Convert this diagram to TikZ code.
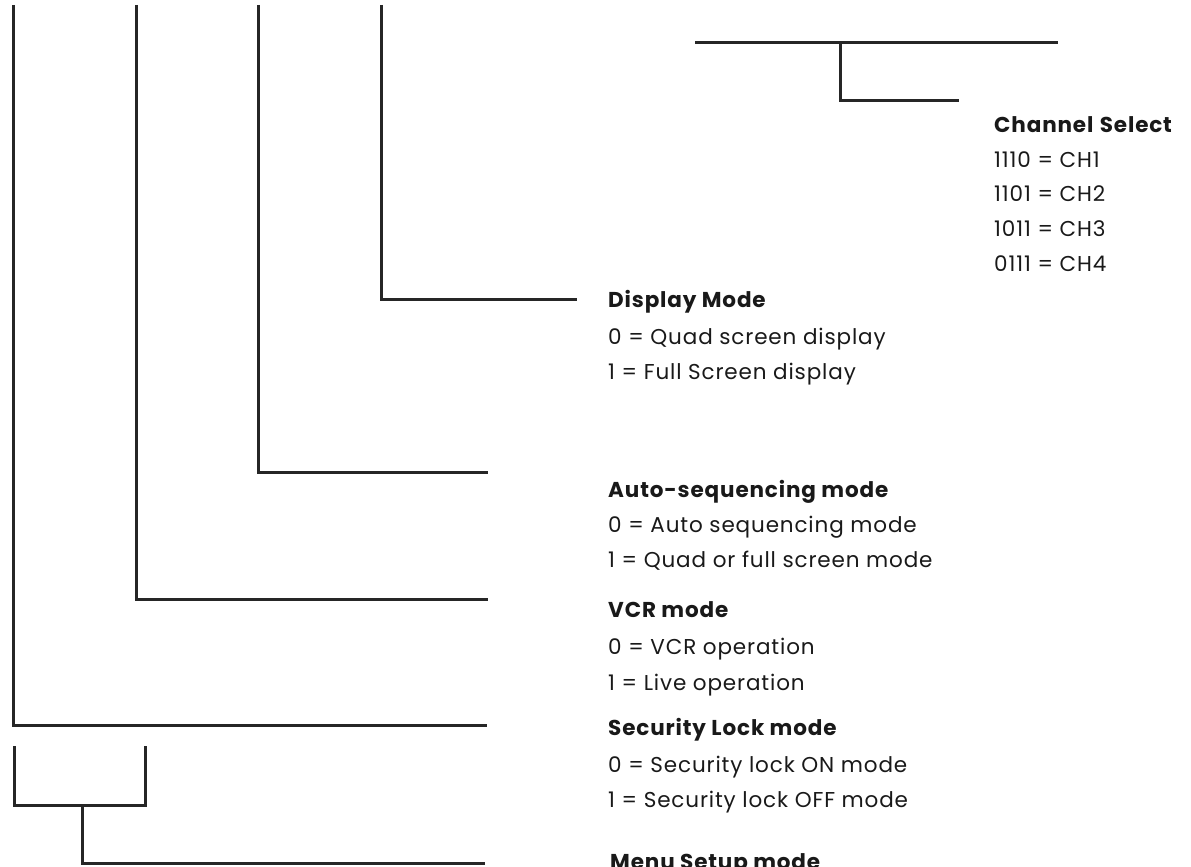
\documentclass[tikz,border=0pt]{standalone}
\usepackage{fontspec}
\setmainfont{Poppins}[LetterSpace=4]
\begin{document}
\begin{tikzpicture}[x=1pt,y=-1pt,
  wire/.style={line width=3pt,color=black!85},
  lab/.style={anchor=base west,inner sep=0pt,font=\fontsize{21.5}{24}\selectfont,text=black!90},
  head/.style={lab,font=\fontsize{21.5}{24}\selectfont\bfseries}]
\useasboundingbox (0,0) rectangle (1191,867);
% free ends
\coordinate (t1) at (13,5);
\coordinate (t2) at (136,5);
\coordinate (t3) at (258,5);
\coordinate (t4) at (381,5);
\coordinate (e4) at (577,299);
\coordinate (e3) at (488,472);
\coordinate (e2) at (488,599);
\coordinate (e1) at (487,725);
\coordinate (h1) at (695,43);
\coordinate (h2) at (1058,43);
\coordinate (b1) at (840,43);
\coordinate (b2) at (959,100);
\coordinate (k1) at (14,746);
\coordinate (k2) at (145,805);
\coordinate (k3) at (145,746);
\coordinate (km) at (82,805);
\coordinate (e0) at (485,863);
% connectors
\draw[wire] (t4) |- (e4);
\draw[wire] (t3) |- (e3);
\draw[wire] (t2) |- (e2);
\draw[wire] (t1) |- (e1);
\draw[wire] (h1) -- (h2);
\draw[wire] (b1) |- (b2);
\draw[wire] (k1) |- (k2) -- (k3);
\draw[wire] (km) |- (e0);
% Channel select
\node[head] (ch) at (994,132) {Channel\hspace{0.3em}Select};
\node[lab] (ch1) at (994,167) {1110 = CH1};
\node[lab] (ch2) at (994,201) {1101 = CH2};
\node[lab] (ch3) at (994,236) {1011 = CH3};
\node[lab] (ch4) at (994,271) {0111 = CH4};
% Display mode
\node[head] (dm) at (608,307) {Display Mode};
\node[lab] (dm0) at (608,344) {0 = Quad screen display};
\node[lab] (dm1) at (608,379) {1 = Full Screen display};
% Auto sequencing
\node[head] (as) at (608,497) {Auto-sequencing mode};
\node[lab] (as0) at (608,532) {0 = Auto sequencing mode};
\node[lab] (as1) at (608,567) {1 = Quad or full screen mode};
% VCR
\node[head] (vc) at (608,617) {VCR mode};
\node[lab] (vc0) at (608,654) {0 = VCR operation};
\node[lab] (vc1) at (608,690) {1 = Live operation};
% Security
\node[head] (sl) at (608,735) {Security Lock mode};
\node[lab] (sl0) at (608,772) {0 = Security lock ON mode};
\node[lab] (sl1) at (608,807) {1 = Security lock OFF mode};
% Menu setup
\node[head] (ms) at (610,869) {Menu Setup mode};
\end{tikzpicture}
\end{document}
